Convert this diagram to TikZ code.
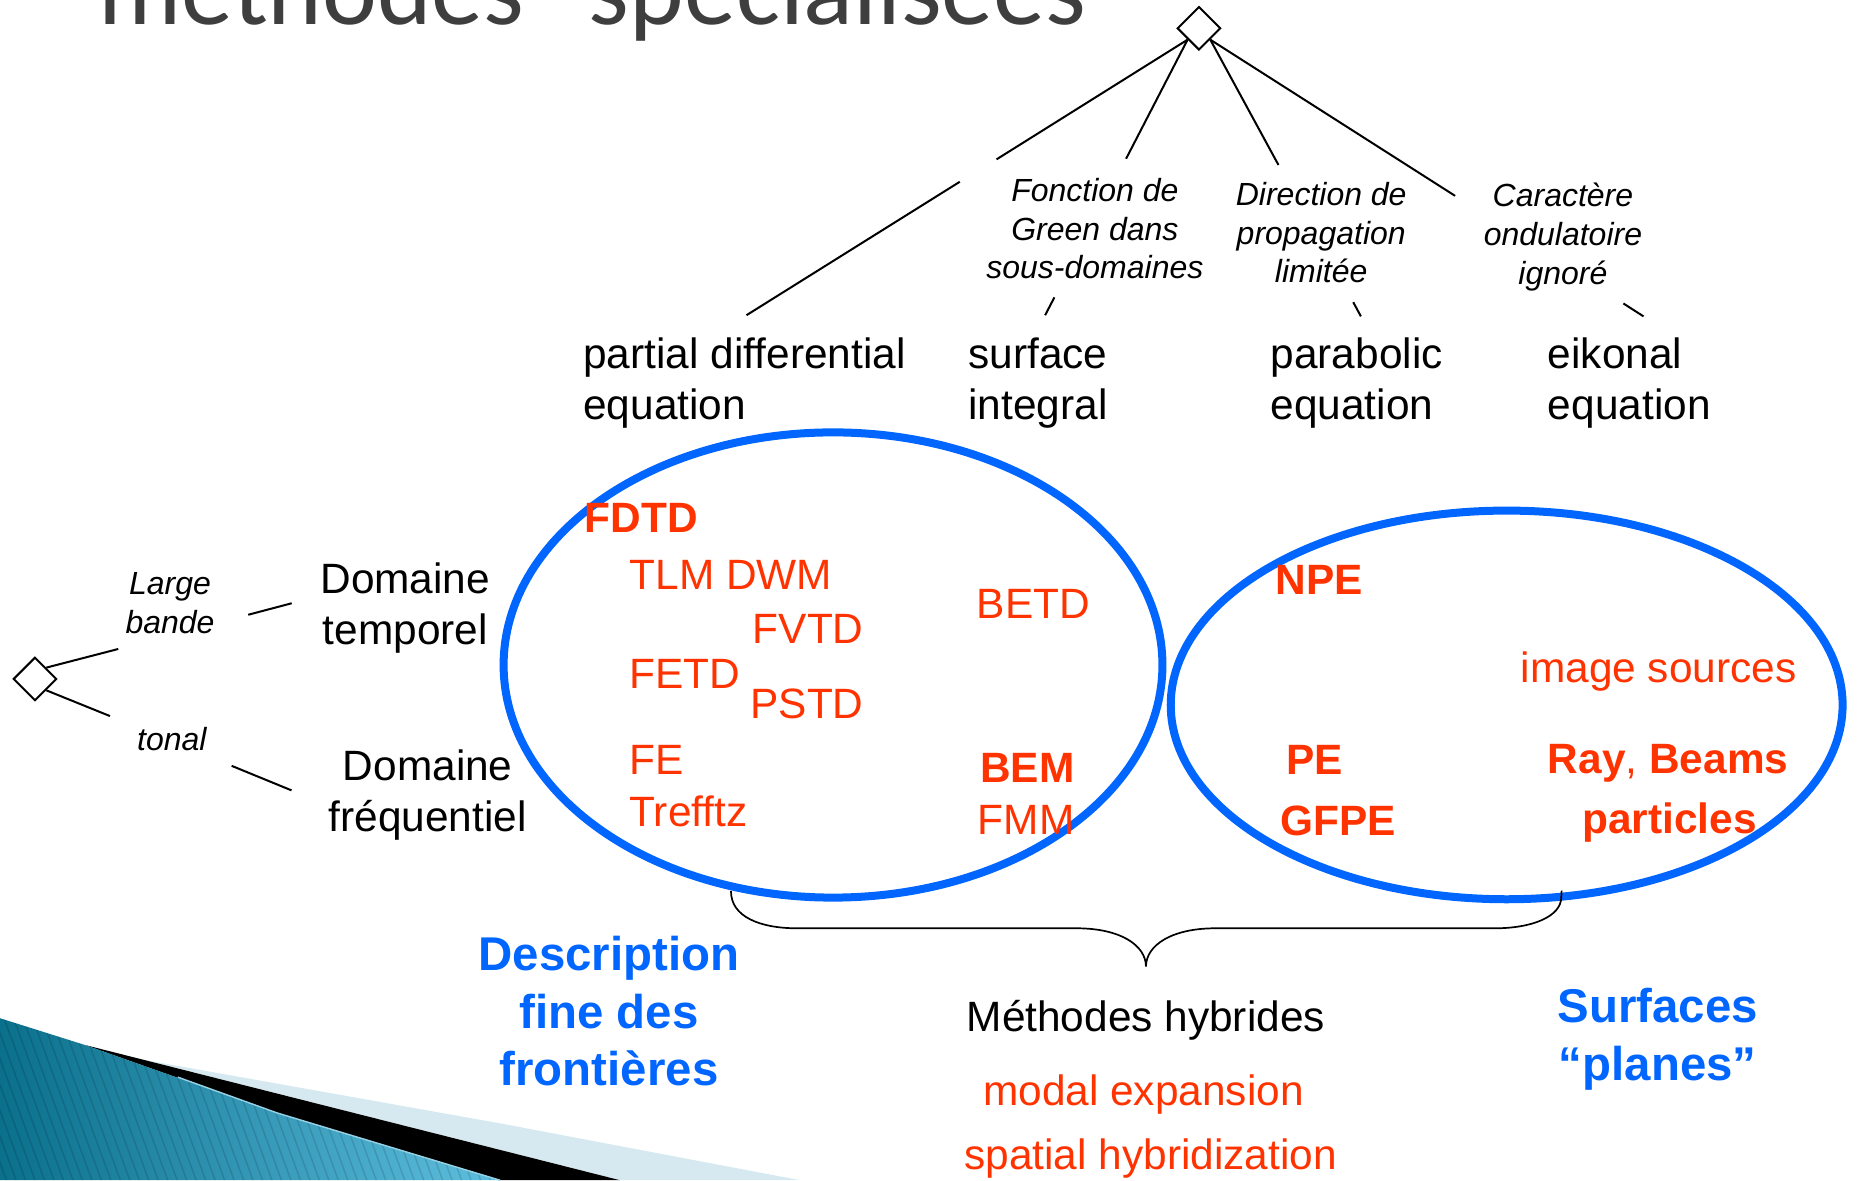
\documentclass[tikz,border=0pt]{standalone}
\usepackage{fontspec}
\setmainfont{Liberation Sans}
\newfontfamily\titlefont{Carlito}
\usetikzlibrary{shapes.geometric}
\definecolor{methred}{RGB}{255,51,0}
\definecolor{ringblue}{RGB}{0,102,255}
\definecolor{titlegray}{RGB}{62,62,62}
\definecolor{wavedark}{RGB}{10,112,140}
\definecolor{wavelight}{RGB}{96,192,224}
\definecolor{wavepale}{RGB}{214,233,240}
\definecolor{waveedge}{RGB}{150,210,230}

\tikzset{
  lbl/.style={font=\fontsize{21.2}{25.5}\selectfont, inner sep=0, align=left},
  crit/.style={font=\itshape\fontsize{16}{19.3}\selectfont, inner sep=0, align=center},
  meth/.style={text=methred, font=\fontsize{21.2}{25.5}\selectfont, inner sep=0, anchor=west},
  methb/.style={meth, font=\bfseries\fontsize{21.2}{25.5}\selectfont},
  cat/.style={text=ringblue, font=\bfseries\fontsize{23.7}{28.7}\selectfont, align=center, inner sep=0},
  branch/.style={draw=black, line width=1pt},
  ring/.style={draw=ringblue, line width=4pt},
  choice/.style={diamond, draw=black, fill=white, line width=1pt, minimum width=21.7pt, minimum height=21.7pt, inner sep=0},
  bracket/.style={draw=black, line width=0.85pt}
}

\begin{document}
\begin{tikzpicture}[x=0.5925pt, y=-0.5925pt]
\useasboundingbox (0,0) rectangle (1568,996);
\fill[white] (0,0) rectangle (1568,996);
\clip (0,0) rectangle (1568,996);

% slide title, mostly above the frame
\node[anchor=base west, inner sep=0, text=titlegray, font=\titlefont\fontsize{52}{62}\selectfont] (title) at (83,21) {méthodes “spécialisées”};

% decorative swoosh in the lower left corner
\fill[wavepale] (71.7,881.9) .. controls (90,887) .. (112.2,892.8) -- (421.9,948) -- (675.1,996) -- (523.2,996) -- cycle;
\fill[black] (71.7,881.9) -- (523.2,996) -- (422,996) -- (233.8,939.2) -- cycle;
\begin{scope}
  \clip (0,859.3) -- (71.7,881.9) -- (233.8,939.2) -- (422,996) -- (0,996) -- cycle;
  \shade[left color=wavedark, right color=wavelight] (0,850) rectangle (430,996);
  \foreach \s in {-80,-72,...,440}
    \draw[black, opacity=0.13, line width=0.7pt] (\s,850) -- (\s+55,1000);
\end{scope}
\draw[waveedge, line width=0.7pt] (150,909) -- (233.8,939.2) -- (422,996);

% the two families of methods
\draw[ring] (703,561.2) ellipse [x radius=278, y radius=196.3];
\draw[ring] (1271.5,594.9) ellipse [x radius=283.5, y radius=164];

% choice points
\node[choice] (top) at (1011.8,23.9) {};
\node[choice] (band) at (29.5,573) {};

% formulations
\node[lbl, anchor=west] (pde) at (492,323) {partial differential\\equation};
\node[lbl, anchor=west] (surf) at (817,323) {surface\\integral};
\node[lbl, anchor=west] (parab) at (1072,323) {parabolic\\equation};
\node[lbl, anchor=west] (eik) at (1306,323) {eikonal\\equation};

% criteria on the branches
\node[crit] (green) at (924,193) {Fonction de\\Green dans\\sous-domaines};
\node[crit] (dirp) at (1115,196.5) {Direction de\\propagation\\limitée};
\node[crit] (wave) at (1319,200) {Caractère\\ondulatoire\\ignoré};
\node[crit] (wide) at (143.5,509) {Large\\bande};
\node[crit] (tonal) at (145,624) {tonal};

% domains
\node[lbl, align=center] (tdom) at (342,513) {Domaine\\temporel};
\node[lbl, align=center] (fdom) at (361,671) {Domaine\\fréquentiel};

% branch ends, interrupted where the criteria are written
\coordinate (a1) at (841,134.5);
\coordinate (a2) at (810,153.4);
\coordinate (aend) at (630,266);
\coordinate (b1) at (950.3,134);
\coordinate (b2) at (889.8,251);
\coordinate (bend) at (882,266);
\coordinate (c1) at (1078.9,139.2);
\coordinate (c2) at (1142,255);
\coordinate (cend) at (1148.5,267);
\coordinate (d1) at (1228,165.3);
\coordinate (d2) at (1370,256.1);
\coordinate (dend) at (1387,267);
\coordinate (e1) at (99.8,547.7);
\coordinate (e2) at (209.5,518.8);
\coordinate (eend) at (246.2,509.1);
\coordinate (f1) at (92.8,604.3);
\coordinate (f2) at (195.5,646.3);
\coordinate (fend) at (246,667);

\draw[branch] (top.south west) -- (a1);
\draw[branch] (a2) -- (aend);
\draw[branch] (top.south west) -- (b1);
\draw[branch] (b2) -- (bend);
\draw[branch] (top.south east) -- (c1);
\draw[branch] (c2) -- (cend);
\draw[branch] (top.south east) -- (d1);
\draw[branch] (d2) -- (dend);
\draw[branch] (band.north east) -- (e1);
\draw[branch] (e2) -- (eend);
\draw[branch] (band.south east) -- (f1);
\draw[branch] (f2) -- (fend);

% methods
\node[methb] (fdtd) at (493,437) {FDTD};
\node[meth] (tlm) at (531,485) {TLM DWM};
\node[meth] (fvtd) at (635,531) {FVTD};
\node[meth] (betd) at (824,510) {BETD};
\node[meth] (fetd) at (531,569) {FETD};
\node[meth] (pstd) at (633,594) {PSTD};
\node[meth] (fe) at (531,641) {FE};
\node[meth] (trefftz) at (531,685) {Trefftz};
\node[methb] (bem) at (827,648) {BEM};
\node[meth] (fmm) at (825,692) {FMM};
\node[methb] (npe) at (1076,489) {NPE};
\node[meth] (imgsrc) at (1283,567) {image sources};
\node[methb] (pe) at (1085,641) {PE};
\node[methb] (gfpe) at (1080,693) {GFPE};
\node[meth] (ray) at (1306,644) {{\bfseries Ray}, {\bfseries Beams}};
\node[methb] (part) at (1335,694) {particles};

% family captions
\node[cat] (fine) at (514,853.5) {Description\\fine des\\frontières};
\node[cat] (flat) at (1399,877) {Surfaces\\“planes”};

% hybrid methods under the brace
\coordinate (brL) at (616.9,751.9);
\coordinate (brTip) at (967.1,815.8);
\coordinate (brR) at (1317.9,751.6);
\draw[bracket] (brL) .. controls (616.6,773.6) and (641.4,783.4) .. (672.6,783.4)
  -- (908.6,783.4) .. controls (945.1,783.4) and (967.1,797.5) .. (brTip)
  .. controls (967.1,797.5) and (989.1,783.4) .. (1025.6,783.4)
  -- (1261.6,783.4) .. controls (1292.8,783.4) and (1317.6,773.6) .. (1317.6,757) -- (brR);
\node[lbl] (hyb) at (967,861) {Méthodes hybrides};
\node[meth, anchor=center] (modal) at (965,924) {modal expansion};
\node[meth, anchor=center] (spatial) at (971,978) {spatial hybridization};
\end{tikzpicture}
\end{document}
